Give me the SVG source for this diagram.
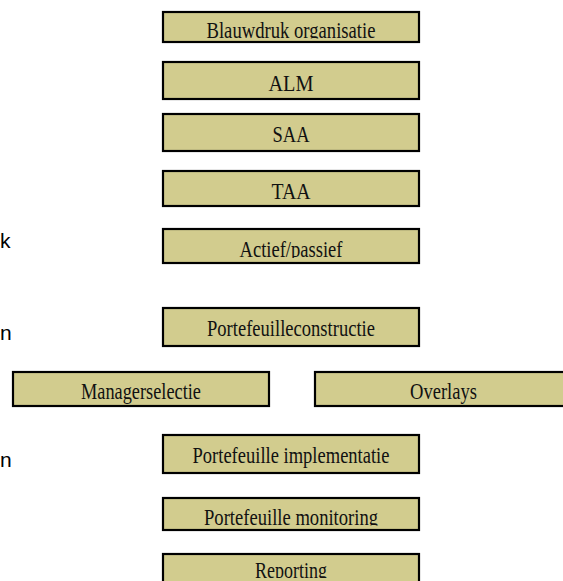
<svg xmlns="http://www.w3.org/2000/svg" width="563" height="581" viewBox="0 0 563 581">
<style>
.box{fill:#D2CC8E;stroke:#000;stroke-width:2.2}
.lbl{font-family:"Liberation Serif","Times New Roman",serif;font-size:23px;fill:#111;text-anchor:middle}
.side{font-family:"Liberation Sans",Arial,sans-serif;font-size:21px;fill:#000}
</style>
<defs>
<clipPath id="c1"><rect x="163" y="12" width="256" height="26.5"/></clipPath>
<clipPath id="c5"><rect x="163" y="229" width="256" height="29"/></clipPath>
<clipPath id="c8"><rect x="163" y="498" width="256" height="27.5"/></clipPath>
<clipPath id="c9"><rect x="163" y="554" width="256" height="24"/></clipPath>
</defs>
<rect width="563" height="581" fill="#fff"/>
<g id="connectors"/>
<g id="side-text">
<text class="side" x="0" y="248">k</text>
<text class="side" x="0" y="340">n</text>
<text class="side" x="0" y="467">n</text>
</g>
<g id="n1"><rect class="box" x="163" y="12" width="256" height="30"/><text class="lbl" x="291" y="37.5" textLength="169" lengthAdjust="spacingAndGlyphs" clip-path="url(#c1)">Blauwdruk organisatie</text></g>
<g id="n2"><rect class="box" x="163" y="62" width="256" height="37"/><text class="lbl" x="291" y="90.5" textLength="45" lengthAdjust="spacingAndGlyphs">ALM</text></g>
<g id="n3"><rect class="box" x="163" y="114" width="256" height="37"/><text class="lbl" x="291" y="141.5" textLength="37" lengthAdjust="spacingAndGlyphs">SAA</text></g>
<g id="n4"><rect class="box" x="163" y="171" width="256" height="35"/><text class="lbl" x="291" y="199" textLength="39" lengthAdjust="spacingAndGlyphs">TAA</text></g>
<g id="n5"><rect class="box" x="163" y="229" width="256" height="34"/><text class="lbl" x="291" y="257" textLength="103" lengthAdjust="spacingAndGlyphs" clip-path="url(#c5)">Actief/passief</text></g>
<g id="n6"><rect class="box" x="163" y="308" width="256" height="38"/><text class="lbl" x="291" y="336" textLength="168" lengthAdjust="spacingAndGlyphs">Portefeuilleconstructie</text></g>
<g id="n7"><rect class="box" x="13" y="372" width="256" height="34"/><text class="lbl" x="141" y="399" textLength="120" lengthAdjust="spacingAndGlyphs">Managerselectie</text></g>
<g id="n8"><rect class="box" x="315" y="372" width="257" height="34"/><text class="lbl" x="443.5" y="399" textLength="67" lengthAdjust="spacingAndGlyphs">Overlays</text></g>
<g id="n9"><rect class="box" x="163" y="435" width="256" height="38"/><text class="lbl" x="291" y="463" textLength="197" lengthAdjust="spacingAndGlyphs">Portefeuille implementatie</text></g>
<g id="n10"><rect class="box" x="163" y="498" width="256" height="32"/><text class="lbl" x="291" y="524.5" textLength="174" lengthAdjust="spacingAndGlyphs" clip-path="url(#c8)">Portefeuille monitoring</text></g>
<g id="n11"><rect class="box" x="163" y="554" width="256" height="40"/><text class="lbl" x="291" y="578" textLength="72" lengthAdjust="spacingAndGlyphs" clip-path="url(#c9)">Reporting</text></g>
</svg>
